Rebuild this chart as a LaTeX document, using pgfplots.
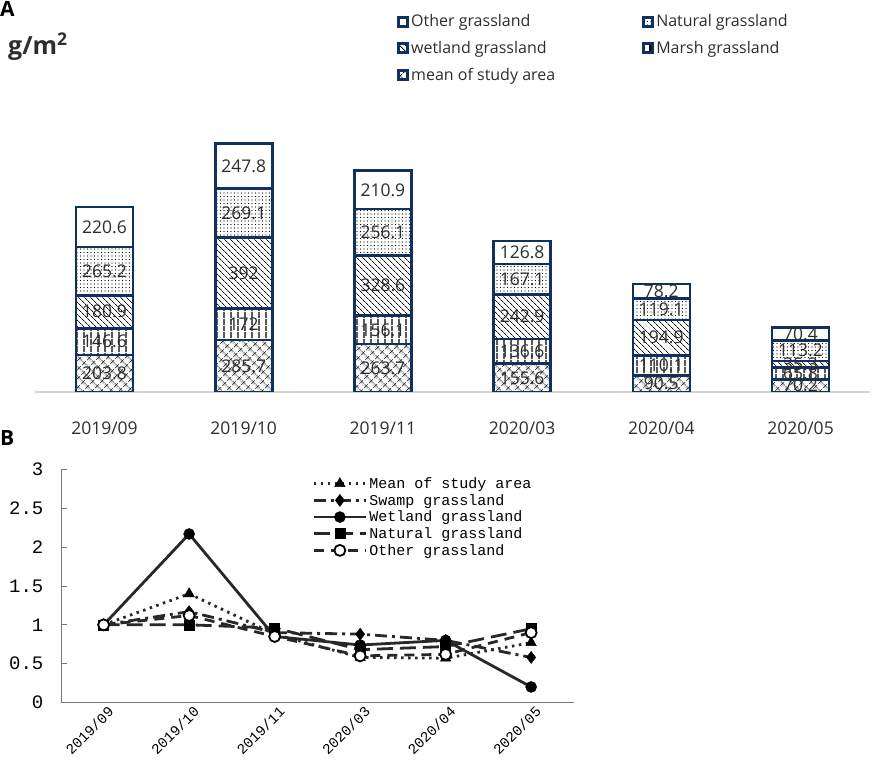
\documentclass[border=0pt]{standalone}
\usepackage{fontspec}
\setmainfont{Open Sans}
\newfontfamily\monofont{Liberation Mono}
\usepackage{pgfplots}
\pgfplotsset{compat=1.18}
\usetikzlibrary{patterns.meta}
\definecolor{navy}{RGB}{16,48,96}
\definecolor{txt}{RGB}{45,45,45}
\definecolor{ln}{RGB}{40,40,40}
\definecolor{axgray}{RGB}{120,120,120}
\begin{document}
\begin{tikzpicture}[x=1pt,y=1pt]
\useasboundingbox (0,0) rectangle (872,760);
\node[anchor=north west, inner sep=0pt, font=\bfseries\fontsize{21}{24}\selectfont, text=black] at (0,759) {A};
\node[anchor=base west, inner sep=0pt, font=\bfseries\fontsize{25}{28}\selectfont, text=txt] at (8,705) {g/m\textsuperscript{2}};
\node[anchor=north west, inner sep=0pt, font=\bfseries\fontsize{21}{24}\selectfont, text=black] at (0,330) {B};
% ---------------- Panel A: stacked bars
\begin{axis}[
  at={(34.9pt,368pt)}, anchor=south west,
  scale only axis, width=835.2pt, height=254.8pt,
  xmin=-0.5, xmax=5.5, ymin=0, ymax=1400,
  ybar stacked, bar width=57pt,
  axis x line=bottom, axis y line=none,
  x axis line style={draw=gray!35, line width=1.2pt, -},
  xtick={0,...,5},
  xticklabels={2019/09,2019/10,2019/11,2020/03,2020/04,2020/05},
  major tick length=0pt,
  xticklabel style={font=\fontsize{17.5}{20}\selectfont, text=txt, yshift=-26pt},
  legend columns=2, reverse legend,
  legend cell align=left,
  legend style={at={(0.4335,1.489)}, anchor=north west, draw=none, fill=none,
    inner sep=0pt, font=\fontsize{16}{18}\selectfont, text=txt, row sep=9pt,
    /tikz/every even column/.append style={column sep=85pt}},
  legend image code/.code={\draw[#1, line width=3pt] (0pt,-4.5pt) rectangle (9pt,4.5pt);},
]
\addplot[draw=navy, line width=2.6pt, pattern={Hatch[angle=45,distance=6.5pt,line width=0.7pt]}, pattern color=black]
  coordinates {(0,203.8)(1,285.7)(2,263.7)(3,155.6)(4,90.5)(5,70.2)};
\addplot[draw=navy, line width=2.6pt, pattern={Lines[angle=90,distance=6.5pt,line width=1.2pt]}, pattern color=black]
  coordinates {(0,146.6)(1,172)(2,156.1)(3,136.6)(4,110.1)(5,65.8)};
\addplot[draw=navy, line width=2.6pt, pattern={Lines[angle=-45,distance=4pt,line width=0.8pt]}, pattern color=black]
  coordinates {(0,180.9)(1,392)(2,328.6)(3,242.9)(4,194.9)(5,35.3)};
\addplot[draw=navy, line width=2.6pt, pattern={Dots[distance=3.5pt,radius=0.7pt]}, pattern color=black]
  coordinates {(0,265.2)(1,269.1)(2,256.1)(3,167.1)(4,119.1)(5,113.2)};
\addplot[draw=navy, line width=2.6pt, fill=white]
  coordinates {(0,220.6)(1,247.8)(2,210.9)(3,126.8)(4,78.2)(5,70.4)};
\legend{mean of study area, Marsh grassland, wetland grassland, Natural grassland, Other grassland}
\end{axis}
% labels of panel A (centre of each segment)
\begin{axis}[
  at={(34.9pt,368pt)}, anchor=south west,
  scale only axis, width=835.2pt, height=254.8pt,
  xmin=-0.5, xmax=5.5, ymin=0, ymax=1400,
  hide axis,
  nodes near coords, point meta=explicit symbolic,
  every node near coord/.append style={anchor=center, inner sep=0pt, font=\fontsize{17.5}{20}\selectfont, text=txt},
]
\addplot[draw=none, mark=none] coordinates {
 (0,101.9)[203.8] (0,277.1)[146.6] (0,440.85)[180.9] (0,663.9)[265.2] (0,906.8)[220.6]
 (1,142.85)[285.7] (1,371.7)[172] (1,653.7)[392] (1,984.25)[269.1] (1,1242.7)[247.8]
 (2,131.85)[263.7] (2,341.75)[156.1] (2,584.1)[328.6] (2,876.45)[256.1] (2,1109.95)[210.9]
 (3,77.8)[155.6] (3,223.9)[136.6] (3,413.65)[242.9] (3,618.65)[167.1] (3,765.6)[126.8]
 (4,45.25)[90.5] (4,145.55)[110.1] (4,298.05)[194.9] (4,455.05)[119.1] (4,553.7)[78.2]
 (5,35.1)[70.2] (5,103.1)[65.8] (5,153.65)[35.3] (5,227.9)[113.2] (5,319.7)[70.4]
};
\end{axis}
% ---------------- Panel B: lines
\begin{axis}[
  at={(60.9pt,57.5pt)}, anchor=south west,
  scale only axis, width=513pt, height=233pt,
  xmin=-0.5, xmax=5.5, ymin=0, ymax=3,
  axis lines=left, axis line style={draw=axgray, line width=0.8pt, -},
  tick align=inside, major tick length=6pt, minor tick length=6pt,
  tick style={draw=axgray, line width=0.8pt},
  xtick={0,...,5}, xtick style={draw=none},
  minor xtick={0.5,1.5,2.5,3.5,4.5,5.5},
  xticklabels={2019/09,2019/10,2019/11,2020/03,2020/04,2020/05},
  xticklabel style={font=\monofont\fontsize{14.5}{16}\selectfont, rotate=45, anchor=north east, text=black, xshift=4pt, yshift=-1pt},
  ytick={0,0.5,1,1.5,2,2.5,3},
  yticklabels={0,0.5,1,1.5,2,2.5,3},
  yticklabel style={font=\monofont\fontsize{19}{20}\selectfont, text=black, xshift=-14pt},
  legend cell align=left,
  legend style={at={(0.49,0.975)}, anchor=north west, draw=none, fill=none,
    inner sep=0pt, font=\monofont\fontsize{15}{16}\selectfont, row sep=0.3pt},
  legend image code/.code={\draw[mark repeat=2, mark phase=2, #1] plot coordinates {(0pt,0pt) (26pt,0pt) (52pt,0pt)};},
]
\addplot[ln, line width=2.8pt, dash pattern=on 2.5pt off 4.5pt, mark=triangle*, mark size=6pt, mark options={solid, fill=black, draw=black, line width=0.5pt}]
  coordinates {(0,1)(1,1.40)(2,0.88)(3,0.58)(4,0.57)(5,0.77)};
\addplot[ln, line width=2.8pt, dash pattern=on 12pt off 5pt on 3pt off 5pt, mark=diamond*, mark size=6pt, mark options={solid, fill=black, draw=black, line width=0.5pt}]
  coordinates {(0,1)(1,1.17)(2,0.90)(3,0.88)(4,0.80)(5,0.58)};
\addplot[ln, line width=2.8pt, solid, mark=*, mark size=5.5pt, mark options={solid, fill=black, draw=black, line width=0.5pt}]
  coordinates {(0,1)(1,2.17)(2,0.85)(3,0.74)(4,0.80)(5,0.20)};
\addplot[ln, line width=2.8pt, dash pattern=on 16pt off 7pt, mark=square*, mark size=5pt, mark options={solid, fill=black, draw=black, line width=0.5pt}]
  coordinates {(0,1)(1,1.00)(2,0.96)(3,0.68)(4,0.72)(5,0.95)};
\addplot[ln, line width=2.8pt, dash pattern=on 10pt off 7pt, mark=*, mark size=5.5pt, mark options={solid, fill=white, draw=black, line width=1.8pt}]
  coordinates {(0,1)(1,1.12)(2,0.85)(3,0.60)(4,0.62)(5,0.90)};
\legend{Mean of study area, Swamp grassland, Wetland grassland, Natural grassland, Other grassland}
\end{axis}
\end{tikzpicture}
\end{document}
